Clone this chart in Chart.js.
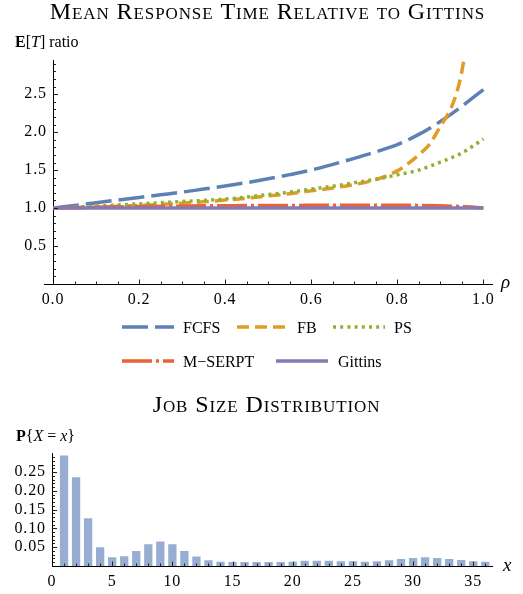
<!DOCTYPE html>
<html><head><meta charset="utf-8">
<script src="https://cdn.jsdelivr.net/npm/chart.js@4/dist/chart.umd.min.js"></script>
<style>
html,body{margin:0;padding:0;background:#fff;}
#wrap{position:relative;width:523px;height:594px;overflow:hidden;}
#c1{position:absolute;left:0;top:0;}
#c2{position:absolute;left:0;top:385px;}
</style></head><body>
<div id="wrap"><canvas id="c1" width="523" height="385"></canvas><canvas id="c2" width="523" height="209"></canvas></div>
<script>
// ---------- data: top chart ----------
const rho     = [0, 0.05, 0.1, 0.15, 0.2, 0.25, 0.3, 0.35, 0.4, 0.45, 0.5, 0.55, 0.6, 0.65, 0.7, 0.75, 0.8, 0.85, 0.9, 0.95, 1.0];
const fcfs    = [1.0, 1.035, 1.07, 1.105, 1.14, 1.175, 1.21, 1.25, 1.29, 1.335, 1.385, 1.44, 1.50, 1.575, 1.655, 1.74, 1.835, 1.97, 2.14, 2.34, 2.56];
const ps      = [1.0, 1.012, 1.025, 1.04, 1.055, 1.07, 1.086, 1.10, 1.118, 1.145, 1.178, 1.21, 1.25, 1.288, 1.333, 1.38, 1.438, 1.50, 1.605, 1.725, 1.91];
const mserpt  = [1.0, 1.005, 1.01, 1.015, 1.02, 1.023, 1.026, 1.029, 1.031, 1.033, 1.034, 1.035, 1.036, 1.037, 1.037, 1.037, 1.037, 1.035, 1.03, 1.02, 1.0];
const gittins = [1, 1, 1, 1, 1, 1, 1, 1, 1, 1, 1, 1, 1, 1, 1, 1, 1, 1, 1, 1, 1];
const rhoFB   = [0, 0.05, 0.1, 0.15, 0.2, 0.25, 0.3, 0.35, 0.4, 0.45, 0.5, 0.55, 0.6, 0.65, 0.7, 0.75, 0.8, 0.825, 0.85, 0.875, 0.9, 0.925, 0.94, 0.95, 0.96];
const fb      = [1.0, 1.006, 1.014, 1.023, 1.035, 1.05, 1.065, 1.083, 1.105, 1.13, 1.16, 1.19, 1.227, 1.265, 1.31, 1.375, 1.49, 1.585, 1.70, 1.84, 2.075, 2.32, 2.56, 2.80, 3.15];
const seriesNames = ['FCFS', 'FB', 'PS', 'M\u2212SERPT', 'Gittins'];
const rhoTicks   = [0, 0.2, 0.4, 0.6, 0.8, 1.0];
const ratioTicks = [0.5, 1.0, 1.5, 2.0, 2.5];

// ---------- data: bottom chart ----------
const sizes = [1,2,3,4,5,6,7,8,9,10,11,12,13,14,15,16,17,18,19,20,21,22,23,24,25,26,27,28,29,30,31,32,33,34,35,36];
const probs = [0.294, 0.236, 0.127, 0.050, 0.023, 0.026, 0.040, 0.058, 0.065, 0.058, 0.040, 0.025,
               0.015, 0.0115, 0.0106, 0.0106, 0.0106, 0.0106, 0.0106, 0.0115, 0.014, 0.014, 0.014, 0.0124,
               0.0124, 0.0115, 0.0124, 0.015, 0.0186, 0.021, 0.023, 0.021, 0.0186, 0.016, 0.0124, 0.0115];
const sizeTicks = [0, 5, 10, 15, 20, 25, 30, 35];
const probTicks = [0.05, 0.10, 0.15, 0.20, 0.25];

const SERIF = "'Liberation Serif', 'Times New Roman', serif";
const pts = (xs, ys) => xs.map((v, i) => ({x: v, y: ys[i]}));

function drawRich(ctx, x, y, parts) {
  for (const [txt, font] of parts) {
    ctx.font = font;
    ctx.fillText(txt, x, y);
    x += ctx.measureText(txt).width;
  }
}

function drawAxisTicks(ctx, scale, horizontal, start, end, step, majorEvery, baseLine) {
  ctx.beginPath();
  const n = Math.round((end - start) / step);
  for (let k = 0; k <= n; k++) {
    const v = start + k * step;
    const major = Math.abs(v / majorEvery - Math.round(v / majorEvery)) < 1e-6;
    const len = major ? 4.5 : 2.5;
    const p = Math.round(scale.getPixelForValue(v)) + 0.5;
    if (horizontal) { ctx.moveTo(p, baseLine); ctx.lineTo(p, baseLine - len); }
    else { ctx.moveTo(baseLine, p); ctx.lineTo(baseLine + len, p); }
  }
  ctx.stroke();
}

// widen the small-caps titles a little (title is drawn before the datasets)
const titleSpacing = {
  id: 'titleSpacing',
  beforeDraw(chart) { chart.ctx.letterSpacing = '0.9px'; },
  beforeDatasetsDraw(chart) { chart.ctx.letterSpacing = '0px'; }
};

// an invisible right-hand axis that only reserves the right margin
function spacerAxis(w) {
  return {
    type: 'linear', position: 'right', display: true,
    grid: {display: false}, border: {display: false}, ticks: {display: false},
    afterFit: s => { s.width = w; }
  };
}

// ---------- top chart ----------
const topDecor = {
  id: 'topDecor',
  afterDatasetsDraw(chart) {
    const {ctx, chartArea, scales: {x, y}} = chart;
    ctx.save();
    ctx.strokeStyle = '#222'; ctx.lineWidth = 1;
    drawAxisTicks(ctx, x, true, 0.05, 1.0, 0.05, 0.2, chartArea.bottom);
    drawAxisTicks(ctx, y, false, 0.1, 2.9, 0.1, 0.5, Math.round(x.getPixelForValue(0)) + 0.5);
    // axis line continues a little to the left of the origin
    const yb = Math.round(chartArea.bottom - 0.5) + 0.5;
    ctx.strokeStyle = '#000';
    ctx.beginPath(); ctx.moveTo(44, yb); ctx.lineTo(chartArea.left + 1, yb); ctx.stroke();
    ctx.restore();
  },
  afterDraw(chart) {
    const {ctx} = chart;
    ctx.save();
    ctx.fillStyle = '#000';
    ctx.textBaseline = 'alphabetic';
    ctx.textAlign = 'left';
    drawRich(ctx, 15, 47, [['E', `bold 16px ${SERIF}`], ['[', `16px ${SERIF}`], ['T', `italic 16px ${SERIF}`], ['] ratio', `16px ${SERIF}`]]);
    ctx.font = `italic 19px ${SERIF}`;
    ctx.fillText('\u03C1', 501, 288);
    // legend
    const rows = [[0, 1, 2], [3, 4]];
    const baseY = [333, 367];
    const lineX = [[122, 237, 333], [122, 276]];
    const textX = [[183, 297, 394], [183, 338]];
    rows.forEach((row, r) => {
      row.forEach((di, c) => {
        const ds = chart.data.datasets[di];
        ctx.save();
        ctx.strokeStyle = ds.borderColor;
        ctx.lineWidth = ds.borderWidth;
        ctx.lineCap = 'butt';
        ctx.setLineDash(ds.borderDash || []);
        ctx.beginPath();
        ctx.moveTo(lineX[r][c], baseY[r] - 6);
        ctx.lineTo(lineX[r][c] + 52, baseY[r] - 6);
        ctx.stroke();
        ctx.restore();
        ctx.font = `16px ${SERIF}`;
        ctx.fillStyle = '#000';
        ctx.fillText(ds.label, textX[r][c], baseY[r]);
      });
    });
    ctx.restore();
  }
};

const lineCommon = {pointRadius: 0, fill: false, cubicInterpolationMode: 'monotone', borderCapStyle: 'butt', borderWidth: 3.5};

new Chart(document.getElementById('c1'), {
  type: 'line',
  data: {
    datasets: [
      Object.assign({label: seriesNames[0], data: pts(rho, fcfs), borderColor: '#5E81B5', borderDash: [26, 7], order: 5}, lineCommon),
      Object.assign({label: seriesNames[1], data: pts(rhoFB, fb), borderColor: '#E19C24', borderDash: [12, 6], order: 4}, lineCommon),
      Object.assign({label: seriesNames[2], data: pts(rho, ps), borderColor: '#8FB032', borderDash: [3, 4.2], order: 3}, lineCommon),
      Object.assign({label: seriesNames[3], data: pts(rho, mserpt), borderColor: '#EB6235', borderDash: [30, 4, 3, 4], order: 2}, lineCommon),
      Object.assign({label: seriesNames[4], data: pts(rho, gittins), borderColor: '#8778B3', borderDash: [], order: 1}, lineCommon)
    ]
  },
  options: {
    responsive: false, animation: false, devicePixelRatio: 1,
    layout: {padding: {left: 12, right: 0, top: 0, bottom: 71}},
    plugins: {
      legend: {display: false},
      tooltip: {enabled: false},
      title: {display: true, text: 'Mean Response Time Relative to Gittins', color: '#000',
              font: {family: SERIF, size: 24, weight: 'small-caps', lineHeight: 1.1}, padding: {top: 0, bottom: 33.6}}
    },
    scales: {
      x: {
        type: 'linear', min: 0, max: 1.02, position: 'bottom', z: 1,
        grid: {display: true, drawOnChartArea: false, drawTicks: false},
        border: {display: true, color: '#000', width: 1},
        ticks: {autoSkip: false, maxRotation: 0, padding: 6, color: '#000', font: {family: SERIF, size: 16},
                callback: v => Number(v).toFixed(1)},
        afterBuildTicks: s => { s.ticks = rhoTicks.map(v => ({value: v})); },
        afterFit: s => { s.height = 30; }
      },
      y: {
        type: 'linear', min: 0, max: 2.95, position: 'left', z: 1,
        grid: {display: true, drawOnChartArea: false, drawTicks: false},
        border: {display: true, color: '#000', width: 1},
        ticks: {autoSkip: false, padding: 6, color: '#000', font: {family: SERIF, size: 16},
                callback: v => Number(v).toFixed(1)},
        afterBuildTicks: s => { s.ticks = ratioTicks.map(v => ({value: v})); },
        afterFit: s => { s.width = 41; }
      },
      yRight: spacerAxis(31)
    }
  },
  plugins: [titleSpacing, topDecor]
});

// ---------- bottom chart ----------
const bottomDecor = {
  id: 'bottomDecor',
  afterDatasetsDraw(chart) {
    const {ctx, chartArea, scales: {x, y}} = chart;
    ctx.save();
    ctx.strokeStyle = '#222'; ctx.lineWidth = 1;
    drawAxisTicks(ctx, x, true, 1, 36, 1, 5, chartArea.bottom);
    drawAxisTicks(ctx, y, false, 0.01, 0.29, 0.01, 0.05, Math.round(x.getPixelForValue(0)) + 0.5);
    ctx.restore();
  },
  afterDraw(chart) {
    const {ctx} = chart;
    ctx.save();
    ctx.fillStyle = '#000';
    ctx.textBaseline = 'alphabetic';
    ctx.textAlign = 'left';
    drawRich(ctx, 16, 55.5, [['P', `bold 16px ${SERIF}`], ['{', `16px ${SERIF}`], ['X', `italic 16px ${SERIF}`],
                             [' = ', `16px ${SERIF}`], ['x', `italic 16px ${SERIF}`], ['}', `16px ${SERIF}`]]);
    ctx.font = `italic 19px ${SERIF}`;
    ctx.fillText('x', 503, 186);
    ctx.restore();
  }
};

new Chart(document.getElementById('c2'), {
  type: 'bar',
  data: {
    datasets: [{label: 'P{X = x}', data: pts(sizes, probs), backgroundColor: '#97AED2', borderWidth: 0,
                barPercentage: 0.69, categoryPercentage: 1.0}]
  },
  options: {
    responsive: false, animation: false, devicePixelRatio: 1,
    layout: {padding: {left: 10, right: 0, top: 0, bottom: 8}},
    plugins: {
      legend: {display: false},
      tooltip: {enabled: false},
      title: {display: true, text: 'Job Size Distribution', color: '#000',
              font: {family: SERIF, size: 24, weight: 'small-caps', lineHeight: 1.1}, padding: {top: 7.6, bottom: 34.3}}
    },
    scales: {
      x: {
        type: 'linear', min: 0, max: 36.6, offset: false, position: 'bottom', z: 1,
        grid: {display: true, drawOnChartArea: false, drawTicks: false, offset: false},
        border: {display: true, color: '#000', width: 1},
        ticks: {autoSkip: false, maxRotation: 0, padding: 6, color: '#000', font: {family: SERIF, size: 16},
                callback: v => String(v)},
        afterBuildTicks: s => { s.ticks = sizeTicks.map(v => ({value: v})); },
        afterFit: s => { s.height = 20; }
      },
      y: {
        type: 'linear', min: 0, max: 0.3, position: 'left', z: 1,
        grid: {display: true, drawOnChartArea: false, drawTicks: false},
        border: {display: true, color: '#000', width: 1},
        ticks: {autoSkip: false, padding: 6, color: '#000', font: {family: SERIF, size: 16},
                callback: v => Number(v).toFixed(2)},
        afterBuildTicks: s => { s.ticks = probTicks.map(v => ({value: v})); },
        afterFit: s => { s.width = 42; }
      },
      yRight: spacerAxis(30.5)
    }
  },
  plugins: [titleSpacing, bottomDecor]
});
</script>
</body></html>
